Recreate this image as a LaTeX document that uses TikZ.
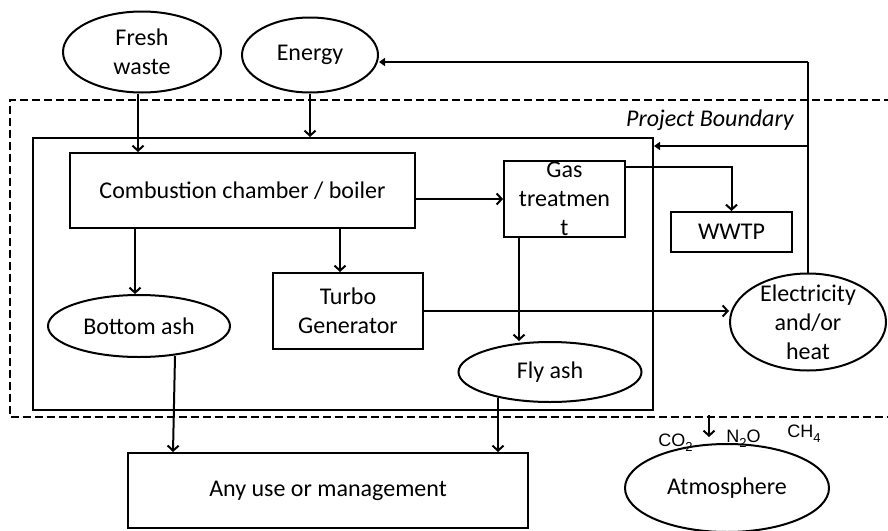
\documentclass[tikz,border=0pt]{standalone}
\usepackage{fontspec}
\setmainfont{Carlito}
\newfontfamily\gasfont{Liberation Sans}
\usetikzlibrary{shapes.geometric}
\usetikzlibrary{arrows.meta}
\newcommand\lowsub[1]{\raisebox{-2.5pt}{\fontsize{6.5}{7}\selectfont #1}}
\tikzset{box node/.style={rectangle,draw,line width=1pt,inner sep=0pt,align=center},
  oval node/.style={ellipse,draw,line width=1pt,inner sep=0pt,align=center},
  flow/.style={line width=1pt,-{Straight Barb[length=2.5pt,width=5.5pt]}},
  back/.style={line width=1pt,-{Triangle[length=3pt,width=4pt]}},
  gas label/.style={font=\gasfont\fontsize{9}{10}\selectfont,inner sep=0pt,anchor=base west},}

\begin{document}
\begin{tikzpicture}[x=0.5pt,y=-0.5pt,font=\fontsize{12}{14.5}\selectfont]
    \useasboundingbox (0,0) rectangle (888,530);
    % project boundary
    \draw[dash pattern=on 4pt off 2pt,line width=1pt] (892,100) -- (10,100) -- (10,417) -- (892,417);
    \node[anchor=base east,inner sep=0pt,font=\fontsize{12}{14.5}\selectfont\itshape] (pb) at (794,126) {Project Boundary};

    \node[oval node,minimum width=79pt,minimum height=40.5pt] (waste) at (142,52) {Fresh\\waste};
    \node[oval node,minimum width=68pt,minimum height=37.5pt] (energy) at (310,55) {Energy};
    \node[box node,minimum width=310pt,minimum height=136pt] (plant) at (343,274) {};
    \node[box node,minimum width=172.5pt,minimum height=37.5pt] (comb) at (242.5,190.5) {Combustion chamber / boiler};
    \node[box node,minimum width=60.5pt,minimum height=38pt,inner ysep=-2pt] (gas) at (564.5,199) {Gas\\treatmen\\t};
    \node[box node,minimum width=60.5pt,minimum height=20pt] (wwtp) at (731.5,232) {WWTP};
    \node[box node,minimum width=75pt,minimum height=38pt] (turbo) at (348,311) {Turbo\\Generator};
    \node[oval node,minimum width=91pt,minimum height=31pt] (bash) at (139,326) {Bottom ash};
    \node[oval node,minimum width=91.5pt,minimum height=30pt] (fly) at (550,372) {Fly ash};
    \node[oval node,minimum width=78pt,minimum height=48.5pt,inner ysep=-4pt] (elec) at (808,322) {Electricity\\and/or\\heat};
    \node[box node,minimum width=200pt,minimum height=37.5pt] (use) at (328,490.5) {Any use or management};
    \node[oval node,minimum width=102pt,minimum height=44pt] (atmos) at (727,488) {Atmosphere};

    % emissions
    \coordinate (emit) at (709,415);
    \coordinate (emitend) at (709,437);
    \node[gas label] (co2) at (658,446) {CO\lowsub{2}};
    \node[gas label] (n2o) at (726,442) {N\lowsub{2}O};
    \node[gas label] (ch4) at (787,437) {CH\lowsub{4}};

    % feedback of energy
    \coordinate (fbtop) at (808,62);
    \coordinate (fbmid) at (808,146);
    \draw[line width=1pt] (elec.north) -- (fbtop);

    \path[flow]
    ([xshift=-2pt]waste.south) edge ([xshift=-2pt]waste.south |- comb.north)
    (energy) edge (energy |- plant.north)
    ([xshift=-2pt]bash.north |- comb.south) edge ([xshift=-2pt]bash.north)
    ([xshift=-4pt]turbo.north |- comb.south) edge ([xshift=-4pt]turbo.north)
    (comb.east |- gas) edge (gas)
    ([xshift=8pt]gas.south west) edge ([xshift=8pt]gas.south west |- fly.north)
    (turbo.east) edge (turbo.east -| elec.west)
    ([xshift=18pt,yshift=1pt]bash.south) edge ([xshift=17pt]bash.south |- use.north)
    ([xshift=-26pt,yshift=2.5pt]fly.south) edge ([xshift=-26pt]fly.south |- use.north)
    (emit) edge (emitend);
    \draw[flow] ([yshift=-3.5pt]gas.north east) -| (wwtp);
    \path[back]
    (fbtop) edge (energy.east |- fbtop)
    (fbmid) edge (plant.east |- fbmid);
  \end{tikzpicture}
\end{document}
